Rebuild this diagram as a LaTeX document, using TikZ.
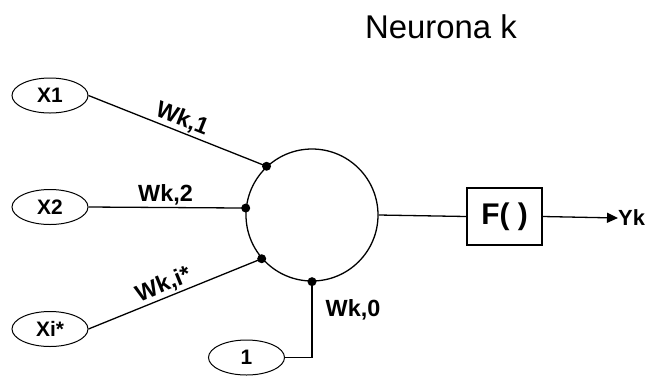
\documentclass[tikz,border=0pt]{standalone}
\usepackage{fontspec}
\setmainfont{Liberation Sans}
\usetikzlibrary{shapes.geometric,arrows.meta}
\begin{document}
\begin{tikzpicture}[x=1bp,y=-1bp,
  wire/.style={line width=1.3bp},
  inputbox/.style={ellipse,draw,line width=1bp,minimum width=76bp,minimum height=35bp,
    inner sep=0pt,font=\fontsize{21}{21}\selectfont\bfseries},
  weight/.style={font=\fontsize{23.5}{23.5}\selectfont\bfseries,inner sep=1.5bp},
  joint/.style={circle,fill,inner sep=0pt,minimum size=9bp},
  funcbox/.style={rectangle,draw,line width=1.3bp,minimum width=75bp,minimum height=57bp,
    inner sep=0pt,font=\fontsize{30}{30}\selectfont\bfseries},
]
\useasboundingbox (0,0) rectangle (646,377);

% title
\node[font=\fontsize{33}{33}\selectfont] (title) at (441,27) {Neurona k};

% neuron body and activation block
\node[circle,draw,wire,minimum size=132bp,inner sep=0pt] (neuron) at (312,215) {};
\node[funcbox] (f) at (504.5,216.5) {F( )};
\node[anchor=west,inner sep=0pt,font=\fontsize{22}{22}\selectfont\bfseries] (yk) at (618,218) {Yk};

% inputs
\node[inputbox] (x1) at (50,95.5) {X1};
\node[inputbox] (x2) at (50,207) {X2};
\node[inputbox] (xi) at (50,329) {Xi*};
\node[inputbox] (one) at (246.5,357.5) {1};

% synapse points on the neuron
\node[joint] (j1) at (neuron.133) {};
\node[joint] (j2) at (neuron.174) {};
\node[joint] (j3) at (neuron.221) {};
\node[joint] (j0) at (neuron.270) {};

% weighted connections
\draw[wire] (x1.east) -- node[weight,sloped,above,pos=0.5] (w1) {Wk,1} (j1.center);
\draw[wire] (x2.east) -- node[weight,above,pos=0.49] (w2) {Wk,2} (j2.center);
\draw[wire] (xi.east) -- node[weight,sloped,above,pos=0.46] (wi) {Wk,i*} (j3.center);
\draw[wire] (one.east) -| (j0.center);
\node[weight] (w0) at (353,310) {Wk,0};

% output path
\draw[wire] (neuron.east) -- (f.west);
\draw[wire,-{Triangle[length=11bp,width=10bp]}] (f.east) -- (yk.west);
\end{tikzpicture}
\end{document}
